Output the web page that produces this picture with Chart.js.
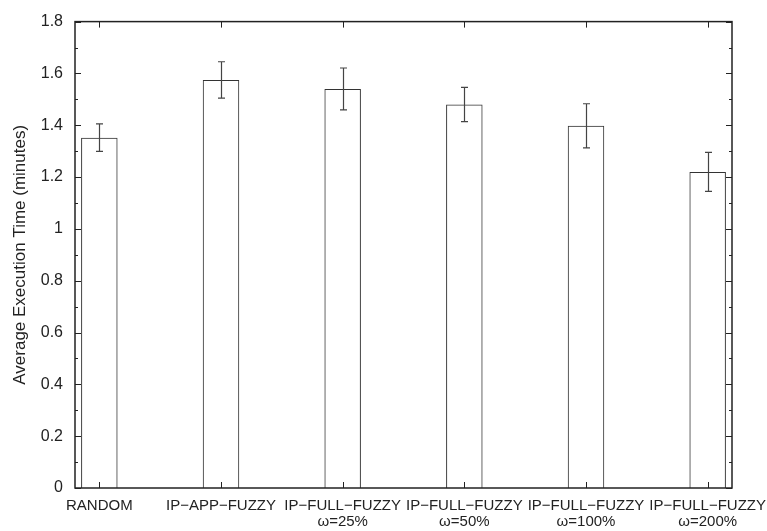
<!DOCTYPE html>
<html>
<head>
<meta charset="utf-8">
<script src="https://cdn.jsdelivr.net/npm/chart.js@4.4.1/dist/chart.umd.min.js"></script>
<style>
  body { margin: 0; background: #fff; }
</style>
</head>
<body>
<canvas id="execChart" width="767" height="531"></canvas>
<script>
// ====== Data ======
const methods = [
  ["RANDOM"],
  ["IP−APP−FUZZY"],
  ["IP−FULL−FUZZY", "ω=25%"],
  ["IP−FULL−FUZZY", "ω=50%"],
  ["IP−FULL−FUZZY", "ω=100%"],
  ["IP−FULL−FUZZY", "ω=200%"],
];
const avgTimes = [1.352, 1.575, 1.540, 1.480, 1.398, 1.220];
const timeErrors = [0.053, 0.070, 0.081, 0.066, 0.085, 0.075];
const yTicks = [0, 0.2, 0.4, 0.6, 0.8, 1, 1.2, 1.4, 1.6, 1.8];

const FONT = "'Liberation Sans', Arial, Helvetica, sans-serif";
const INK = "#222";

// ====== Error bars, inward ticks and frame ======
const gnuplotFrame = {
  id: "gnuplotFrame",
  afterDatasetsDraw(chart) {
    const { ctx, chartArea: a, scales: { x, y } } = chart;
    ctx.save();

    // error bars
    ctx.strokeStyle = "#444";
    ctx.lineWidth = 1.2;
    avgTimes.forEach((v, i) => {
      const px = Math.round(x.getPixelForValue(i)) + 0.5;
      const top = y.getPixelForValue(v + timeErrors[i]);
      const bot = y.getPixelForValue(v - timeErrors[i]);
      ctx.beginPath();
      ctx.moveTo(px, top); ctx.lineTo(px, bot);
      ctx.moveTo(px - 3.5, top); ctx.lineTo(px + 3.5, top);
      ctx.moveTo(px - 3.5, bot); ctx.lineTo(px + 3.5, bot);
      ctx.stroke();
    });

    // y ticks (major + minor) on both sides
    ctx.strokeStyle = INK;
    ctx.lineWidth = 1;
    ctx.beginPath();
    for (let k = 0; k < yTicks.length; k++) {
      const py = Math.round(y.getPixelForValue(yTicks[k])) + 0.5;
      ctx.moveTo(a.left, py); ctx.lineTo(a.left + 6, py);
      ctx.moveTo(a.right, py); ctx.lineTo(a.right - 6, py);
      if (k < yTicks.length - 1) {
        const my = Math.round(y.getPixelForValue((yTicks[k] + yTicks[k + 1]) / 2)) + 0.5;
        ctx.moveTo(a.left, my); ctx.lineTo(a.left + 3, my);
        ctx.moveTo(a.right, my); ctx.lineTo(a.right - 3, my);
      }
    }
    // x ticks at each category, top and bottom
    methods.forEach((m, i) => {
      const px = Math.round(x.getPixelForValue(i)) + 0.5;
      ctx.moveTo(px, a.bottom); ctx.lineTo(px, a.bottom - 6);
      ctx.moveTo(px, a.top); ctx.lineTo(px, a.top + 6);
    });
    ctx.stroke();

    // border
    ctx.lineWidth = 1.5;
    ctx.strokeRect(a.left, a.top, a.right - a.left, a.bottom - a.top);
    ctx.restore();
  },
};

// ====== Chart ======
const ctx = document.getElementById("execChart");
new Chart(ctx, {
  type: "bar",
  data: {
    datasets: [
      {
        data: avgTimes.map((v, i) => ({ x: i, y: v })),
        backgroundColor: "rgba(255,255,255,0)",
        borderColor: "#333",
        borderWidth: 1,
        barPercentage: 0.3,
        categoryPercentage: 1,
      },
    ],
  },
  options: {
    responsive: false,
    animation: false,
    layout: { padding: { top: 17, right: 35, left: 0, bottom: 0 } },
    plugins: { legend: { display: false }, tooltip: { enabled: false } },
    scales: {
      x: {
        type: "linear",
        min: -0.2,
        max: 5.2,
        offset: false,
        grid: { display: false, drawTicks: false, offset: false },
        border: { display: false },
        afterBuildTicks: (s) => { s.ticks = methods.map((m, i) => ({ value: i })); },
        afterFit: (s) => { s.height = 43; s.paddingLeft = 0; s.paddingRight = 0; },
        ticks: {
          autoSkip: false,
          maxRotation: 0,
          padding: 10,
          color: INK,
          font: { family: FONT, size: 15, lineHeight: 1.05 },
          callback: (v) => methods[v],
        },
      },
      y: {
        min: 0,
        max: 1.8,
        grid: { display: false, drawTicks: false },
        border: { display: false },
        afterBuildTicks: (s) => { s.ticks = yTicks.map((v) => ({ value: v })); },
        afterFit: (s) => { s.width = 75; },
        ticks: {
          padding: 12,
          color: INK,
          font: { family: FONT, size: 16 },
          callback: (v) => String(+v.toFixed(1)),
        },
        title: {
          display: true,
          text: "Average Execution Time (minutes)",
          color: INK,
          font: { family: FONT, size: 17 },
          padding: { top: 10, bottom: 0 },
        },
      },
    },
  },
  plugins: [gnuplotFrame],
});
</script>
</body>
</html>
